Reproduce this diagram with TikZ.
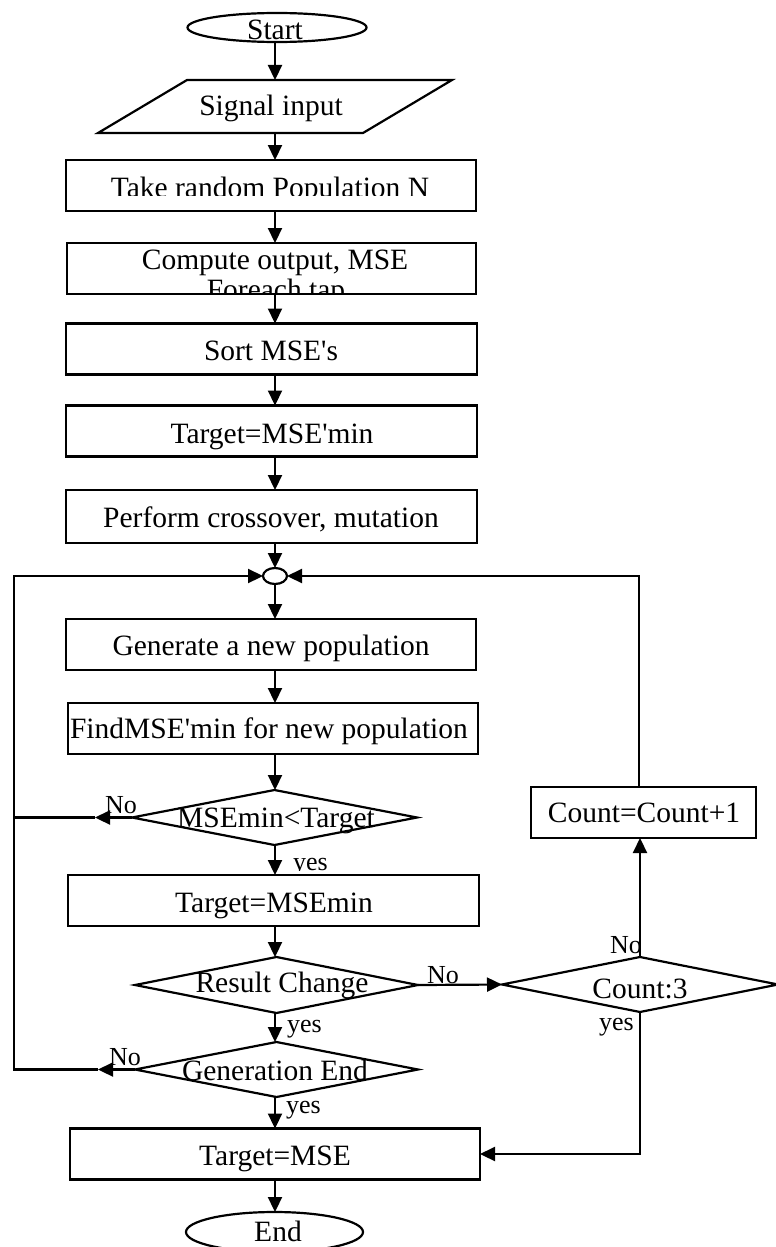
\documentclass[tikz,border=0pt]{standalone}
\usepackage{fontspec}
\setmainfont{Liberation Serif}[Ligatures=TeXOff]
\usetikzlibrary{arrows.meta,shapes.geometric}
\begin{document}
\begin{tikzpicture}[x=1pt,y=-1pt,
  line width=2.2pt,
  shapeb/.style={draw, line width=2.2pt, inner sep=0pt, outer sep=0pt},
  box/.style={shapeb, rectangle, minimum height=51pt},
  dia/.style={shapeb, diamond, minimum height=55pt},
  oval/.style={shapeb, ellipse},
  txt/.style={anchor=base, inner sep=0pt, font=\fontsize{29.5}{31}\selectfont},
  lbl/.style={anchor=base west, inner sep=0pt, font=\fontsize{26}{28}\selectfont},
  arr/.style={-{Triangle[length=15pt,width=14pt]}}]
\useasboundingbox (0,0) rectangle (776,1247);

% ---------- main column shapes ----------
\node[oval, minimum width=179pt, minimum height=29pt] (start) at (277,27.5) {};
\node[txt] (startt) at (275,40) {Start};

\node[inner sep=0pt, outer sep=0pt, minimum width=354pt, minimum height=53pt] (sig) at (275,106.5) {};
\draw ([xshift=89pt]sig.north west) -- (sig.north east) -- ([xshift=-89pt]sig.south east) -- (sig.south west) -- cycle;
\node[txt] (sigt) at (271,115) {Signal input};

\node[box, minimum width=410pt] (take) at (271,185.5) {};
\begin{scope}
  \clip (67,161) rectangle (475,195);
  \node[txt] (taket) at (270,197) {Take random Population N};
\end{scope}

\node[box, minimum width=409pt] (comp) at (271.5,268.5) {};
\begin{scope}
  \clip (68,244) rectangle (475,292.5);
  \node[txt] (compt1) at (275,269) {Compute output, MSE};
  \node[txt] (compt2) at (276,299) {Foreach tap};
\end{scope}

\node[box, minimum width=411pt] (sort) at (271.5,349) {};
\node[txt] (sortt) at (271,360) {Sort MSE's};

\node[box, minimum width=411pt] (tminp) at (271.5,431) {};
\node[txt] (tminpt) at (272,443) {Target=MSE'min};

\node[box, minimum width=411pt, minimum height=53pt] (perf) at (271.5,516.5) {};
\node[txt] (perft) at (271,527) {Perform crossover, mutation};

\node[oval, minimum width=24pt, minimum height=16pt] (junc) at (275,576) {};

\node[box, minimum width=410pt] (gen) at (271,644.5) {};
\node[txt] (gent) at (271,655) {Generate a new population};

\node[box, minimum width=410pt] (find) at (273,728.5) {};
\node[txt] (findt) at (269,738) {FindMSE'min for new population};

\node[dia, minimum width=285pt] (d1) at (274.5,817.5) {};
\node[txt] (d1t) at (276,827) {MSEmin<Target};

\node[box, minimum width=411pt] (tmin) at (273.5,900.5) {};
\node[txt] (tmint) at (274,912) {Target=MSEmin};

\node[dia, minimum width=283pt, minimum height=56pt] (rc) at (276.5,985) {};
\node[txt] (rct) at (282,992) {Result Change};

\node[dia, minimum width=283pt] (ge) at (276.5,1069.5) {};
\node[txt] (get) at (275,1080) {Generation End};

\node[box, minimum width=410pt] (tmse) at (275,1154) {};
\node[txt] (tmset) at (275,1165) {Target=MSE};

\node[oval, minimum width=177pt, minimum height=40pt] (endn) at (274.5,1232) {};
\node[txt] (endt) at (278,1241) {End};

% ---------- right column ----------
\node[box, minimum width=225pt] (count) at (643.5,812.5) {};
\node[txt] (countt) at (644,822) {Count=Count+1};

\node[dia, minimum width=276pt] (c3) at (640,984.5) {};
\node[txt] (c3t) at (640,998) {Count:3};

% ---------- main column arrows ----------
\draw[arr] (start.south -| junc) -- (sig.north -| junc);
\draw[arr] (sig.south -| junc) -- (take.north -| junc);
\draw[arr] (take.south -| junc) -- (comp.north -| junc);
\draw[arr] (comp.south -| junc) -- (sort.north -| junc);
\draw[arr] (sort.south -| junc) -- (tminp.north -| junc);
\draw[arr] (tminp.south -| junc) -- (perf.north -| junc);
\draw[arr] (perf.south -| junc) -- (junc.north);
\draw[arr] (junc.south) -- (gen.north -| junc);
\draw[arr] (gen.south -| junc) -- (find.north -| junc);
\draw[arr] (find.south -| junc) -- (d1.north -| junc);
\draw[arr] (d1.south -| junc) -- (tmin.north -| junc);
\draw[arr] (tmin.south -| junc) -- (rc.north -| junc);
\draw[arr] (rc.south -| junc) -- (ge.north -| junc);
\draw[arr] (ge.south -| junc) -- (tmse.north -| junc);
\draw[arr] (tmse.south -| junc) -- (endn.north -| junc);

% ---------- left loop ----------
\coordinate (tip1) at ([xshift=-37pt]d1.west);
\coordinate (lc1) at (14,817.5);
\coordinate (tip2) at ([xshift=-37pt]ge.west);
\coordinate (lc2) at (ge.west -| lc1);
\draw[arr] (d1.west) -- (tip1);
\draw (tip1) -- (lc1);
\draw[arr] (ge.west) -- (tip2);
\draw (tip2) -- (lc2) -- (lc1);
\draw[arr] (lc1) |- (junc.west);

% ---------- right loop ----------
\draw[arr] (rc.east) -- (c3.west);
\draw[arr] (c3.north) -- (c3.north |- count.south);
\draw[arr] ([xshift=-4.5pt]count.north) |- (junc.east);
\draw[arr] (c3.south) |- (tmse.east);

% ---------- labels ----------
\node[lbl] (no1) at (104,813) {No};
\begin{scope}
  \clip (285,845) rectangle (345,870);
  \node[lbl] (yes1) at (292,870) {yes};
\end{scope}
\node[lbl] (no2) at (426,983) {No};
\node[lbl] (yes2) at (286,1032) {yes};
\node[lbl] (no3) at (108,1065) {No};
\node[lbl] (yes3) at (285,1113) {yes};
\node[lbl] (no4) at (609,953) {No};
\node[lbl] (yes4) at (598,1030) {yes};
\end{tikzpicture}
\end{document}
